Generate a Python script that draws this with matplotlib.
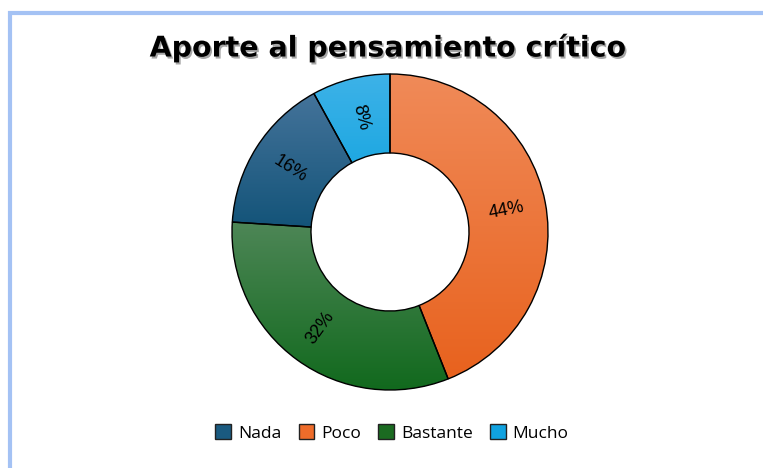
import numpy as np
import matplotlib
matplotlib.use("Agg")
import matplotlib.pyplot as plt
import matplotlib.patheffects as pe
from matplotlib.colors import to_rgb
from matplotlib.lines import Line2D
from matplotlib.patches import Patch

# data (drawing order: clockwise from top)
labels = ["Poco", "Bastante", "Nada", "Mucho"]
values = [44, 32, 16, 8]
legend_order = ["Nada", "Poco", "Bastante", "Mucho"]

# gradient colours: (top, bottom)
colors = {
    "Nada": ("#44739a", "#125378"),
    "Poco": ("#f08a58", "#e8621e"),
    "Bastante": ("#4d8656", "#11691d"),
    "Mucho": ("#3db2e8", "#07a0dd"),
}
base = {"Nada": "#1a5a80", "Poco": "#ef6c2a", "Bastante": "#1b6b21", "Mucho": "#10a2e0"}

W, H = 763, 468
fig = plt.figure(figsize=(W / 100, H / 100), dpi=100)
fig.patch.set_facecolor("white")

# light blue frame (left and top edges)
frame = "#a4c2f4"
fig.add_artist(Line2D([10 / W, 10 / W], [0, (H - 11) / H], color=frame, lw=3, solid_capstyle="butt"))
fig.add_artist(Line2D([8 / W, 1], [(H - 13) / H, (H - 13) / H], color=frame, lw=3, solid_capstyle="butt"))

# donut
cx, cy, R = 390, 232, 158
ax = fig.add_axes([(cx - 160) / W, (H - cy - 160) / H, 320 / W, 320 / H])
wedges, _ = ax.pie(values, startangle=90, counterclock=False, radius=1,
                   wedgeprops=dict(width=0.5, edgecolor="black", linewidth=1.0, facecolor="none"))

for w, lab in zip(wedges, labels):
    w.set_zorder(3)
    v = w.get_path().vertices
    x0, x1 = v[:, 0].min(), v[:, 0].max()
    y0, y1 = v[:, 1].min(), v[:, 1].max()
    top, bot = np.array(to_rgb(colors[lab][0])), np.array(to_rgb(colors[lab][1]))
    t = np.linspace(0, 1, 64)[:, None]
    grad = (top * (1 - t) + bot * t)[:, None, :]
    im = ax.imshow(grad, extent=[x0, x1, y0, y1], origin="upper", aspect="auto",
                   interpolation="bilinear", zorder=2)
    im.set_clip_path(w)

    ang = (w.theta1 + w.theta2) / 2
    rad = np.deg2rad(ang)
    rot = ang
    if 90 < rot % 360 < 270:
        rot = rot - 180
    ax.text(0.75 * np.cos(rad), 0.75 * np.sin(rad), f"{values[labels.index(lab)]}%",
            ha="center", va="center", rotation=rot, rotation_mode="anchor",
            fontsize=13, family="Liberation Sans", color="black", zorder=4)

lim = 160 / R
ax.set_xlim(-lim, lim)
ax.set_ylim(-lim, lim)
ax.set_aspect("equal")
ax.axis("off")

# title
fig.text(388 / W, (H - 48) / H, "Aporte al pensamiento crítico", ha="center", va="center",
         fontsize=20.5, fontweight="bold", family="DejaVu Sans", color="black",
         path_effects=[pe.withSimplePatchShadow(offset=(1.2, -1.5), shadow_rgbFace="black", alpha=0.35)])

# legend
handles = [Patch(facecolor=base[l], edgecolor="#222222", linewidth=1.0) for l in legend_order]
fig.legend(handles, legend_order, loc="center", bbox_to_anchor=(392 / W, (H - 433) / H),
           ncol=4, frameon=False, prop={"family": "Open Sans", "size": 12.5},
           handlelength=0.9, handleheight=0.9, handletextpad=0.4, columnspacing=1.0)

fig.savefig("out.png", dpi=100)
